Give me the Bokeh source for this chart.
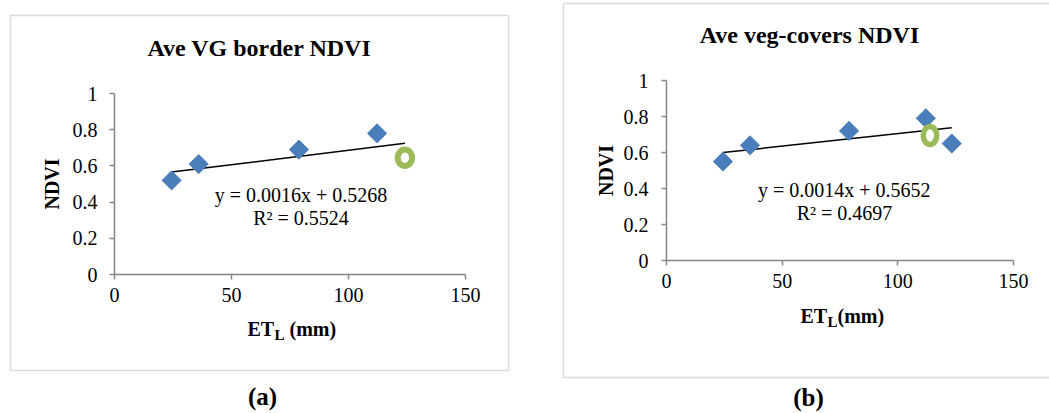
import numpy as np
from bokeh.plotting import figure
from bokeh.layouts import row
from bokeh.models import (Range1d, FixedTicker, NumeralTickFormatter, Label,
                          BoxAnnotation, LinearAxis)
from bokeh.embed import file_html
from bokeh.resources import INLINE

# ---- data -------------------------------------------------------------
# (a) average vegetated-border NDVI against leaching ET
et_a = [24.4, 36.0, 78.8, 112.2]
ndvi_a = [0.52, 0.61, 0.69, 0.78]
ring_et_a = [124.1]
ring_ndvi_a = [0.645]
slope_a, icpt_a, r2_a = 0.0016, 0.5268, 0.5524

# (b) average vegetation-cover NDVI against leaching ET
et_b = [24.4, 36.1, 78.9, 112.1, 123.3]
ndvi_b = [0.55, 0.64, 0.72, 0.79, 0.65]
ring_et_b = [113.9]
ring_ndvi_b = [0.695]
slope_b, icpt_b, r2_b = 0.0014, 0.5652, 0.4697

x_ticks = [0, 50, 100, 150]
y_ticks = [0, 0.2, 0.4, 0.6, 0.8, 1]

FONT = "Liberation Serif"
BLUE = "#4A7EBB"
GREEN = "#9BBB59"
AXIS_GRAY = "#868686"


def panel(title, tag, et, ndvi, ring_et, ring_ndvi, slope, icpt, r2, geo):
    W, H = geo["size"]
    fl, fr, ft, fb = geo["frame"]          # plot-area edges in canvas pixels
    x0, x1 = x_ticks[0], x_ticks[-1]
    y0, y1 = y_ticks[0], y_ticks[-1]
    kx = (x1 - x0) / (fr - fl)
    ky = (y1 - y0) / (fb - ft)

    # canvas pixel -> data coordinate
    def dx(px):
        return x0 + (px - fl) * kx

    def dy(py):
        return y0 + (fb - py) * ky

    # the whole canvas is the frame; axes are pinned at the data origin
    p = figure(width=W, height=H, output_backend="svg", toolbar_location=None,
               x_range=Range1d(dx(0), dx(W)), y_range=Range1d(dy(H), dy(0)),
               x_axis_location=None, y_axis_location=None,
               min_border=0)
    p.title.visible = False
    p.outline_line_color = None
    p.xgrid.visible = False
    p.ygrid.visible = False
    p.background_fill_color = "white"
    p.border_fill_color = "white"

    xa = LinearAxis(fixed_location=y0, bounds=(x0, x1),
                    ticker=FixedTicker(ticks=x_ticks))
    ya = LinearAxis(fixed_location=x0, bounds=(y0, y1),
                    ticker=FixedTicker(ticks=y_ticks),
                    formatter=NumeralTickFormatter(format="0.[0]"))
    for ax in (xa, ya):
        ax.axis_line_color = AXIS_GRAY
        ax.axis_line_width = 1.5
        ax.major_tick_line_color = AXIS_GRAY
        ax.major_tick_line_width = 1.5
        ax.major_tick_in = 0
        ax.major_tick_out = 5
        ax.minor_tick_line_color = None
        ax.major_label_text_font = FONT
        ax.major_label_text_font_size = "20px"
        ax.major_label_text_color = "black"
    xa.major_label_standoff = geo["xstand"]
    ya.major_label_standoff = geo["ystand"]
    ya.axis_label = "NDVI"
    ya.axis_label_text_font = FONT
    ya.axis_label_text_font_style = "bold"
    ya.axis_label_text_font_size = "20px"
    ya.axis_label_text_color = "black"
    ya.axis_label_standoff = geo["ylab_stand"]
    p.add_layout(xa, "below")
    p.add_layout(ya, "left")

    # chart border
    bl, bt, br, bb = geo["box"]
    p.add_layout(BoxAnnotation(left=dx(bl), right=dx(br), top=dy(bt), bottom=dy(bb),
                               fill_alpha=0, line_color="#8c8c8c", line_width=1.5,
                               level="underlay"))

    # linear trend over the span of the plotted points
    all_x = list(et) + list(ring_et)
    tx = np.array([min(all_x), max(all_x)])
    p.line(tx, slope * tx + icpt, line_color="black", line_width=1.5)

    p.scatter(et, ndvi, marker="square", size=13.5, angle=np.pi / 4,
              fill_color=BLUE, line_color=BLUE, line_width=1)
    rw, rh, rlw = geo["ring"]
    p.ellipse(ring_et, ring_ndvi, width=rw, height=rh, width_units="screen",
              height_units="screen", fill_color="white", line_color=GREEN,
              line_width=rlw)

    def label(px, py, text, size, bold=False, align="center"):
        p.add_layout(Label(x=dx(px), y=dy(py), text=text, text_font=FONT,
                           text_font_size=size,
                           text_font_style="bold" if bold else "normal",
                           text_align=align, text_baseline="middle",
                           text_color="black"))

    tx_, ty_ = geo["title"]
    label(tx_, ty_, title, "24px", bold=True)

    (e1x, e1y), (e2x, e2y) = geo["eq"]
    label(e1x, e1y, f"y = {slope:.4f}x + {icpt:.4f}", "20px")
    label(e2x, e2y, f"R\u00b2 = {r2:.4f}", "20px")

    # x-axis title with subscript: ET_L (mm)
    lx, ly, unit_dx = geo["xlab"]
    label(lx, ly, "ET", "20px", bold=True, align="left")
    label(lx + 27, ly + 6, "L", "15px", bold=True, align="left")
    label(lx + unit_dx, ly, "(mm)", "20px", bold=True, align="left")

    gx, gy = geo["tag"]
    label(gx, gy, tag, "25px", bold=True)
    return p


geo_a = dict(size=(520, 413), frame=(114, 465, 93, 274), box=(10, 15, 508, 370),
             xstand=8, ystand=12, ylab_stand=7, ring=(14.5, 16.5, 6),
             title=(259, 47), eq=((300.5, 194.5), (300.5, 217)),
             xlab=(247, 328.5, 42), tag=(262, 396))
geo_b = dict(size=(529, 413), frame=(146, 493, 80, 260), box=(43, 3, 540, 377),
             xstand=8, ystand=13, ylab_stand=4, ring=(13.5, 18, 5.5),
             title=(289, 34), eq=((323.7, 189.5), (324, 212)),
             xlab=(280, 315, 37), tag=(288, 397))

pa = panel("Ave VG border NDVI", "(a)", et_a, ndvi_a, ring_et_a, ring_ndvi_a,
           slope_a, icpt_a, r2_a, geo_a)
pb = panel("Ave veg-covers NDVI", "(b)", et_b, ndvi_b, ring_et_b, ring_ndvi_b,
           slope_b, icpt_b, r2_b, geo_b)

layout = row(pa, pb, spacing=0)
open("out.html", "w").write(file_html(layout, INLINE))
